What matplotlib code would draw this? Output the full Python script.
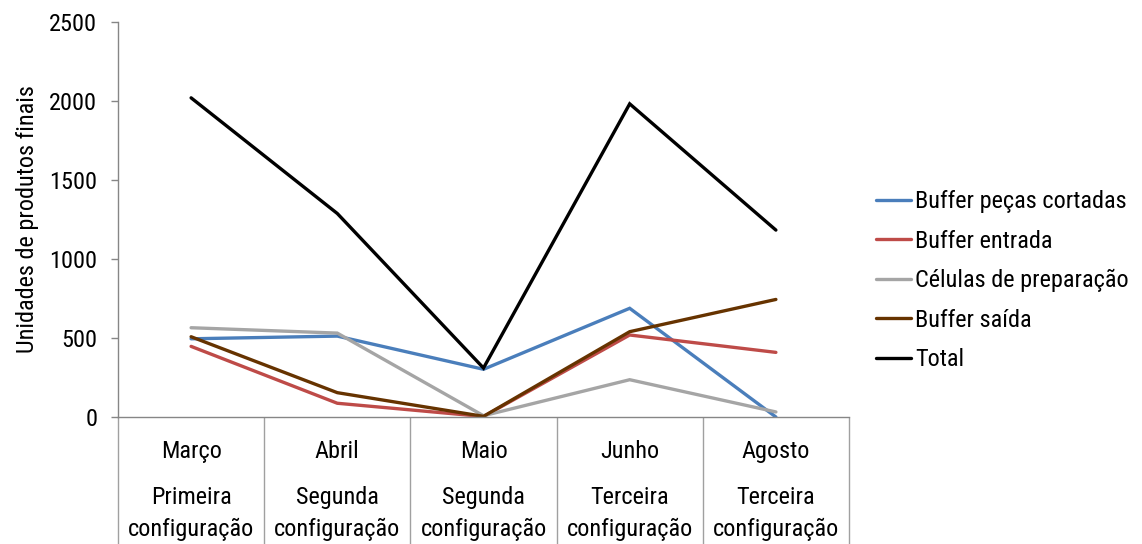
import matplotlib
matplotlib.use('Agg')
import matplotlib.pyplot as plt

plt.rcParams['font.family'] = ['Roboto Condensed', 'DejaVu Sans']

months = ['Março', 'Abril', 'Maio', 'Junho', 'Agosto']
configs = ['Primeira', 'Segunda', 'Segunda', 'Terceira', 'Terceira']

buffer_cortadas = [495, 512, 302, 688, 0]
buffer_entrada = [447, 87, 3, 519, 409]
celulas_prep = [565, 531, 8, 236, 32]
buffer_saida = [508, 154, 4, 540, 744]
total = [2020, 1288, 310, 1982, 1183]

series = [
    ('Buffer peças cortadas', buffer_cortadas, '#4a7ebb'),
    ('Buffer entrada', buffer_entrada, '#be4b48'),
    ('Células de preparação', celulas_prep, '#a5a5a5'),
    ('Buffer saída', buffer_saida, '#663300'),
    ('Total', total, '#000000'),
]

fs = 17.5

fig = plt.figure(figsize=(11.42, 5.44), dpi=100)
ax = fig.add_axes([118 / 1142, 1 - 417 / 544, 731 / 1142, 395 / 544])

x = list(range(len(months)))
for name, vals, col in series:
    ax.plot(x, vals, color=col, linewidth=2.4, label=name,
            solid_capstyle='round', solid_joinstyle='miter')

ax.set_xlim(-0.5, len(months) - 0.5)
ax.set_ylim(0, 2500)
ax.set_yticks(range(0, 2501, 500))
ax.tick_params(axis='y', direction='out', length=5, width=1, color='#868686',
               pad=10, labelsize=fs)

# category separators run down through the label area
ax.set_xticks([i - 0.5 for i in range(len(months) + 1)])
ax.set_xticklabels([])
ax.tick_params(axis='x', direction='out', length=92, width=1, color='#a0a0a0')

for side in ('top', 'right'):
    ax.spines[side].set_visible(False)
for side in ('left', 'bottom'):
    ax.spines[side].set_color('#868686')
    ax.spines[side].set_linewidth(1)

trans = ax.get_xaxis_transform()
for i, (m, c) in enumerate(zip(months, configs)):
    ax.text(i, -0.088, m, transform=trans, ha='center', va='center', fontsize=fs)
    ax.text(i, -0.203, c, transform=trans, ha='center', va='center', fontsize=fs)
    ax.text(i, -0.285, 'configuração', transform=trans, ha='center', va='center',
            fontsize=fs)

ax.set_ylabel('Unidades de produtos finais', fontsize=fs, labelpad=7)

ax.legend(loc='upper left', bbox_to_anchor=(864 / 1142, 1 - 178 / 544),
          bbox_transform=fig.transFigure, frameon=False, fontsize=fs,
          handlelength=1.45, handletextpad=0.16, labelspacing=0.68, borderpad=0)

fig.savefig('out.png', dpi=100)
